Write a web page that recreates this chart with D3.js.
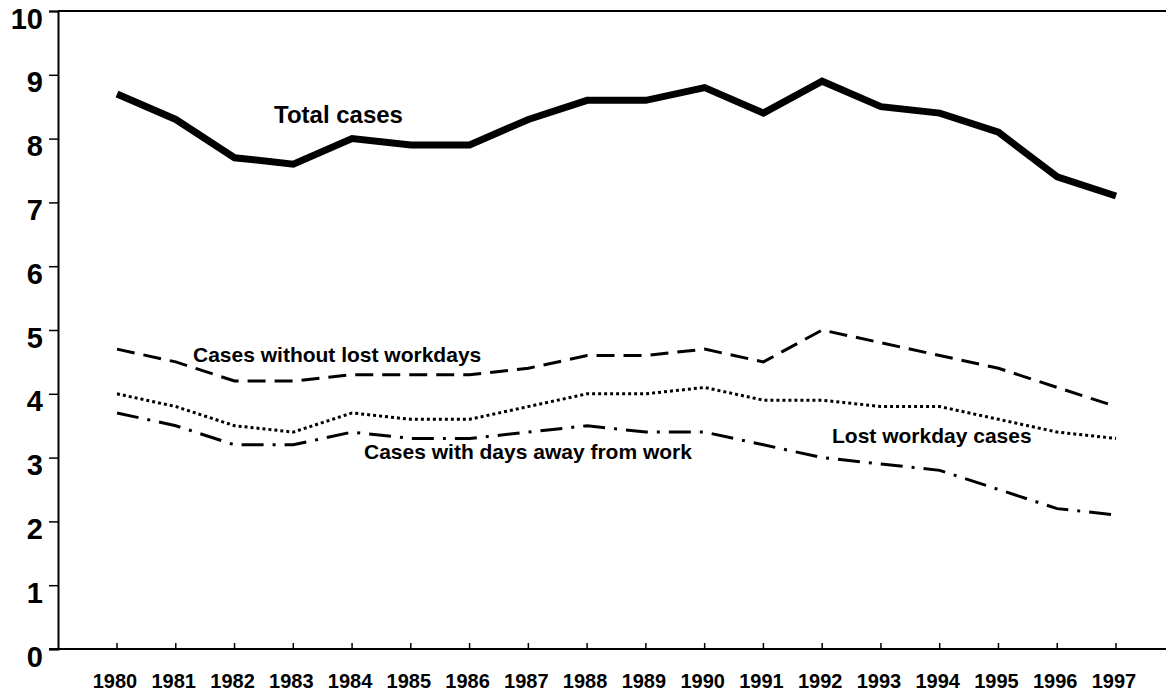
<!DOCTYPE html>
<html>
<head>
<meta charset="utf-8">
<script src="https://cdn.jsdelivr.net/npm/d3@7"></script>
<style>
  body { margin: 0; background: #fff; }
  svg { display: block; font-family: Arial, "Liberation Sans", sans-serif; font-weight: bold; }
</style>
</head>
<body>
<div id="chart"></div>
<script>
var years = [1980, 1981, 1982, 1983, 1984, 1985, 1986, 1987, 1988, 1989, 1990, 1991, 1992, 1993, 1994, 1995, 1996, 1997];
var totalCases = [8.7, 8.3, 7.7, 7.6, 8.0, 7.9, 7.9, 8.3, 8.6, 8.6, 8.8, 8.4, 8.9, 8.5, 8.4, 8.1, 7.4, 7.1];
var withoutLost = [4.7, 4.5, 4.2, 4.2, 4.3, 4.3, 4.3, 4.4, 4.6, 4.6, 4.7, 4.5, 5.0, 4.8, 4.6, 4.4, 4.1, 3.8];
var lostWorkday = [4.0, 3.8, 3.5, 3.4, 3.7, 3.6, 3.6, 3.8, 4.0, 4.0, 4.1, 3.9, 3.9, 3.8, 3.8, 3.6, 3.4, 3.3];
var daysAway = [3.7, 3.5, 3.2, 3.2, 3.4, 3.3, 3.3, 3.4, 3.5, 3.4, 3.4, 3.2, 3.0, 2.9, 2.8, 2.5, 2.2, 2.1];
var yTicks = [0, 1, 2, 3, 4, 5, 6, 7, 8, 9, 10];

var width = 1166, height = 691;
var plotLeft = 58, plotRight = 1166, plotTop = 11, plotBottom = 649;

var svg = d3.select("#chart").append("svg")
            .attr("width", width)
            .attr("height", height);

var x = d3.scalePoint().domain(years).range([117, 1116]);
var y = d3.scaleLinear().domain([0, 10]).range([plotBottom, plotTop]);

// frame: top line + axes
svg.append("line")
   .attr("x1", plotLeft).attr("x2", plotRight)
   .attr("y1", y(10)).attr("y2", y(10))
   .attr("stroke", "#000").attr("stroke-width", 2);

var yAxis = svg.append("g")
   .attr("transform", "translate(" + plotLeft + ",0)")
   .call(d3.axisLeft(y).tickValues(yTicks).tickSize(9).tickPadding(6).tickFormat(d3.format("d")));
yAxis.select(".domain").attr("stroke-width", 2);
yAxis.selectAll(".tick line").attr("stroke-width", 1.5);
// labels sit a bit below their ticks in the original
yAxis.selectAll("text")
     .attr("font-family", null).attr("font-size", null)
     .style("font-size", "29px").style("font-weight", "bold")
     .attr("fill", "#000")
     .attr("dy", "17px");

var xAxis = svg.append("g")
   .attr("transform", "translate(0," + plotBottom + ")");
xAxis.append("line")
   .attr("x1", plotLeft - 9).attr("x2", plotRight)
   .attr("stroke", "#000").attr("stroke-width", 2);
xAxis.selectAll("line.tk").data(years).enter().append("line")
   .attr("class", "tk")
   .attr("x1", function(d) { return x(d); }).attr("x2", function(d) { return x(d); })
   .attr("y1", 0).attr("y2", -6)
   .attr("stroke", "#000").attr("stroke-width", 1.5);
xAxis.selectAll("text").data(years).enter().append("text")
   .attr("x", function(d) { return x(d) - 2; })
   .attr("y", 39)
   .attr("text-anchor", "middle")
   .style("font-size", "20px")
   .text(function(d) { return d; });

var line = d3.line()
   .x(function(d, i) { return x(years[i]); })
   .y(function(d) { return y(d); });

var series = [
  { values: totalCases, width: 7, dash: null },
  { values: withoutLost, width: 3, dash: "18,9" },
  { values: lostWorkday, width: 3, dash: "3,3" },
  { values: daysAway, width: 3, dash: "22,9,3,9" }
];

series.forEach(function(s) {
  svg.append("path")
     .datum(s.values)
     .attr("d", line)
     .attr("fill", "none")
     .attr("stroke", "#000")
     .attr("stroke-width", s.width)
     .attr("stroke-dasharray", s.dash);
});

// labels
var labels = [
  { text: "Total cases", x: 274, y: 123, size: 24 },
  { text: "Cases without lost workdays", x: 193, y: 362, size: 21 },
  { text: "Lost workday cases", x: 832, y: 443, size: 21 },
  { text: "Cases with days away from work", x: 364, y: 459, size: 21 }
];
labels.forEach(function(l) {
  svg.append("text")
     .attr("x", l.x).attr("y", l.y)
     .style("font-size", l.size + "px")
     .text(l.text);
});
</script>
</body>
</html>
